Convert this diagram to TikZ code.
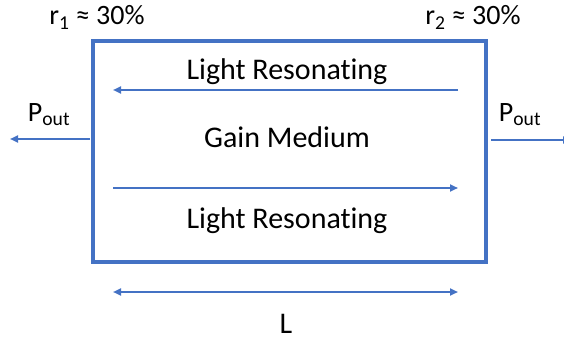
\documentclass[tikz,border=0pt]{standalone}
\usepackage{fontspec}
\setmainfont{Carlito}[Ligatures=NoCommon]
\usetikzlibrary{arrows.meta,positioning}
\definecolor{lsblue}{RGB}{68,114,196}

\begin{document}
\begin{tikzpicture}[
    x=1pt,y=-1pt,
    font=\fontsize{30}{34}\selectfont,
    cavity/.style={draw=lsblue,line width=3.4pt},
    beam/.style={lsblue,line width=2.5pt,-{Triangle[length=8pt,width=7pt]}},
    span/.style={lsblue,line width=2.5pt,{Triangle[length=8pt,width=7pt]}-{Triangle[length=8pt,width=7pt]}},
    txt/.style={anchor=base,inner sep=0pt},
    small/.style={txt,font=\fontsize{28}{32}\selectfont}
  ]
    \useasboundingbox (0,0) rectangle (564,339);
    % laser cavity
    \draw[cavity] (93,41) rectangle (486,262);
    \coordinate (topR) at (458,90);
    \coordinate (topL) at (113,90);
    \coordinate (botL) at (113,188);
    \coordinate (botR) at (458,188);
    \coordinate (lenL) at (113,292);
    \coordinate (lenR) at (458,292);
    \coordinate (outL0) at (90,139);
    \coordinate (outL1) at (10,139);
    \coordinate (outR0) at (491,140);
    \coordinate (outR1) at (571,140);
    % labels
    \node[txt] (top) at (287,80) {Light Resonating};
    \node[txt] (gain) at (287,148) {Gain Medium};
    \node[txt] (bot) at (287,228) {Light Resonating};
    \node[txt] (len) at (286,333) {L};
    \node[small] (r1) at (97,25) {r\textsubscript{1} ≈ 30\%};
    \node[small] (r2) at (473,25) {r\textsubscript{2} ≈ 30\%};
    \node[small] (pl) at (49,122) {P\textsubscript{out}};
    \node[small] (pr) at (520,122) {P\textsubscript{out}};
    % beams
    \draw[beam] (topR) -- (topL);
    \draw[beam] (botL) -- (botR);
    \draw[span] (lenL) -- (lenR);
    \draw[beam] (outL0) -- (outL1);
    \draw[beam] (outR0) -- (outR1);
\end{tikzpicture}
\end{document}
